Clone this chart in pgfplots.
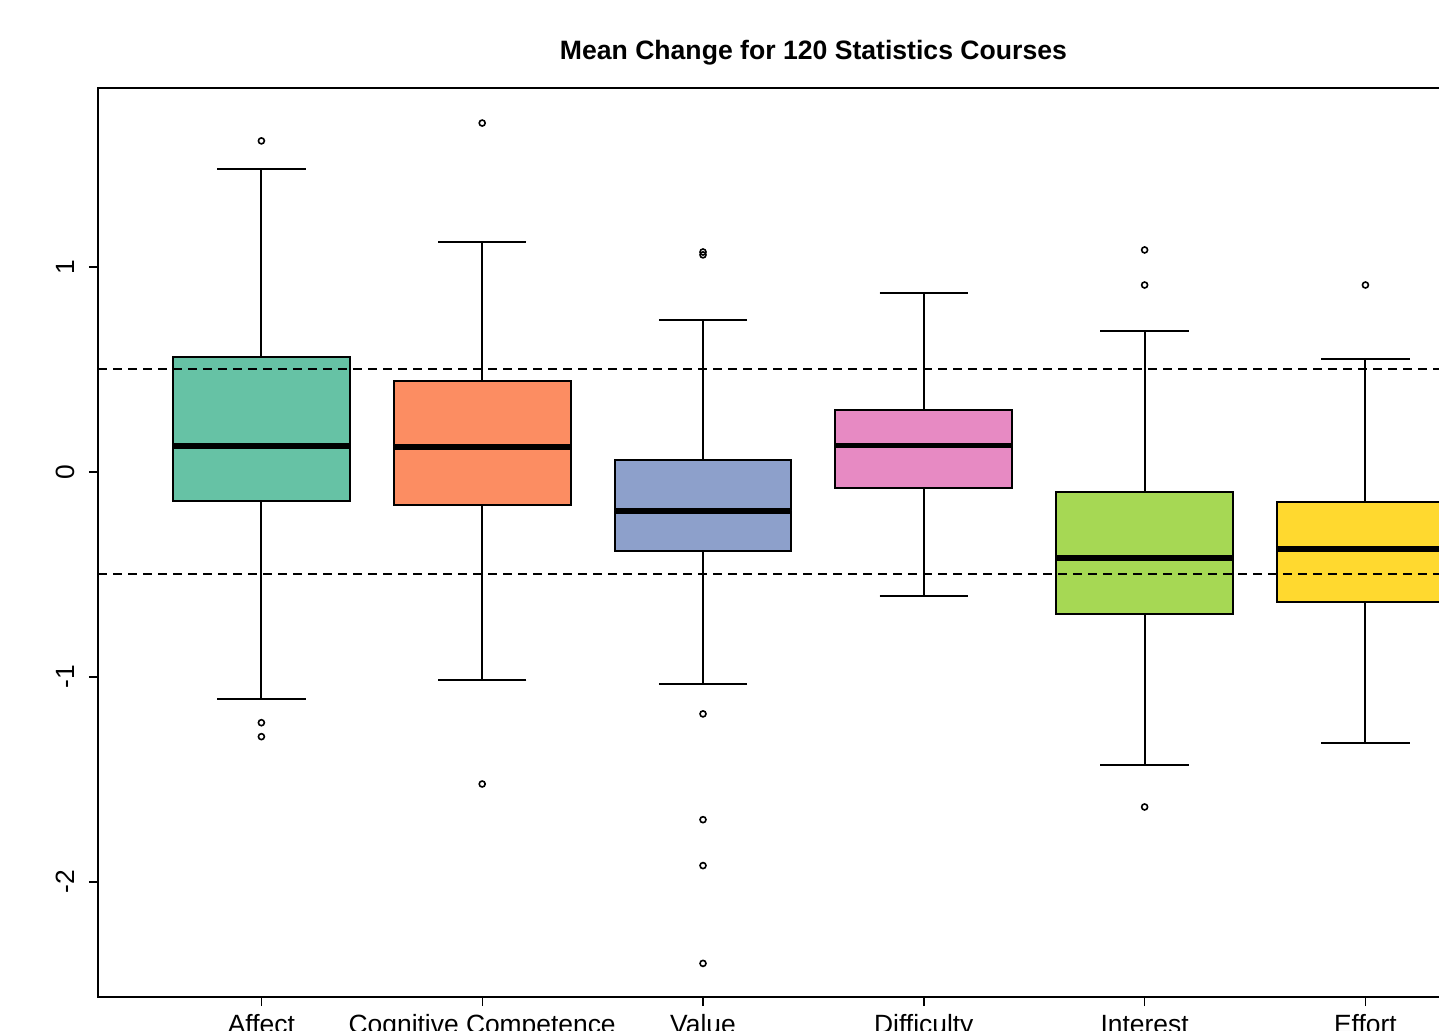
\documentclass[border=0pt]{standalone}
\usepackage{fontspec}
\setmainfont{Liberation Sans}
\usepackage{pgfplots}
\pgfplotsset{compat=1.18}
\usepgfplotslibrary{statistics}
\definecolor{s1}{HTML}{66C2A5}
\definecolor{s2}{HTML}{FC8D62}
\definecolor{s3}{HTML}{8DA0CB}
\definecolor{s4}{HTML}{E78AC3}
\definecolor{s5}{HTML}{A6D854}
\definecolor{s6}{HTML}{FFD92F}
\begin{document}
\begin{tikzpicture}
\useasboundingbox (-49pt,-16.5pt) rectangle (670.5pt,498.5pt);
\clip (-49pt,-16.5pt) rectangle (670.5pt,498.5pt);
\begin{axis}[
  at={(0,0)}, anchor=south west,
  scale only axis, width=715.4pt, height=454.5pt,
  xmin=0.26, xmax=6.74, ymin=-2.561, ymax=1.873,
  axis line style={black, line width=0.8pt},
  tick align=outside, tick pos=left,
  major tick length=4.5pt,
  every tick/.style={black, line width=0.7pt},
  xtick={1,2,3,4,5,6},
  xticklabels={Affect, Cognitive Competence, Value, Difficulty, Interest, Effort},
  ytick={-2,-1,0,1},
  yticklabels={-2,-1,0,1},
  tick label style={font=\fontsize{13.2}{15}\selectfont},
  xticklabel style={anchor=base, yshift=-13.5pt},
  yticklabel style={xshift=-7.5pt, rotate=90, anchor=base, inner sep=0pt},
  title={Mean Change for 120 Statistics Courses},
  title style={font=\bfseries\fontsize{13.3}{16}\selectfont, at={(0.5,1)}, anchor=base, yshift=8pt},
  boxplot/draw direction=y,
  boxplot/box extend=0.8,
  boxplot/whisker extend=0.4,
  boxplot/every median/.style={line width=2.8pt},
  boxplot/every box/.style={draw=black, line width=1pt},
  boxplot/every whisker/.style={black, line width=1pt},
  clip=false,
]
\addplot[boxplot prepared={draw position=1, median=0.127, upper quartile=0.560, lower quartile=-0.140, upper whisker=1.478, lower whisker=-1.107}, fill=s1, draw=black, mark=o, mark size=1.5pt, mark options={black, line width=0.8pt, fill=none}]
  coordinates {(0,1.615) (0,-1.223) (0,-1.291)};
\addplot[boxplot prepared={draw position=2, median=0.122, upper quartile=0.442, lower quartile=-0.163, upper whisker=1.122, lower whisker=-1.016}, fill=s2, draw=black, mark=o, mark size=1.5pt, mark options={black, line width=0.8pt, fill=none}]
  coordinates {(0,1.702) (0,-1.522)};
\addplot[boxplot prepared={draw position=3, median=-0.190, upper quartile=0.059, lower quartile=-0.385, upper whisker=0.740, lower whisker=-1.036}, fill=s3, draw=black, mark=o, mark size=1.5pt, mark options={black, line width=0.8pt, fill=none}]
  coordinates {(0,1.073) (0,1.059) (0,-1.180) (0,-1.696) (0,-1.920) (0,-2.397)};
\addplot[boxplot prepared={draw position=4, median=0.130, upper quartile=0.302, lower quartile=-0.080, upper whisker=0.873, lower whisker=-0.605}, fill=s4, draw=black]
  coordinates {};
\addplot[boxplot prepared={draw position=5, median=-0.421, upper quartile=-0.096, lower quartile=-0.693, upper whisker=0.688, lower whisker=-1.429}, fill=s5, draw=black, mark=o, mark size=1.5pt, mark options={black, line width=0.8pt, fill=none}]
  coordinates {(0,1.083) (0,0.912) (0,-1.634)};
\addplot[boxplot prepared={draw position=6, median=-0.377, upper quartile=-0.148, lower quartile=-0.633, upper whisker=0.551, lower whisker=-1.322}, fill=s6, draw=black, mark=o, mark size=1.5pt, mark options={black, line width=0.8pt, fill=none}]
  coordinates {(0,0.912)};
\addplot[black, line width=1pt, dash pattern=on 4.5pt off 3pt, mark=none] coordinates {(0.26,0.5) (6.74,0.5)};
\addplot[black, line width=1pt, dash pattern=on 4.5pt off 3pt, mark=none] coordinates {(0.26,-0.5) (6.74,-0.5)};
\end{axis}
\end{tikzpicture}
\end{document}
